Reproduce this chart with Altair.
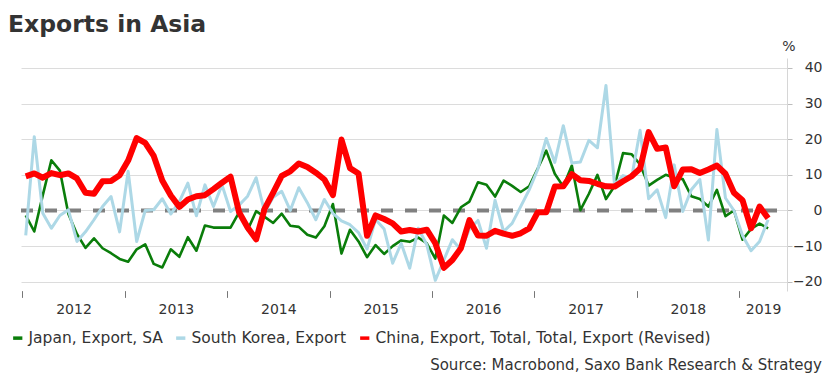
import altair as alt
import pandas as pd

# ---------------- data (monthly, Jan 2012 .. Apr 2019) ----------------
start_year, start_month, n_months = 2012, 1, 88

japan = [
    -1.4, -5.9, 4.3, 14.1, 11.2, -1.0, -6.6, -10.5, -7.8, -10.6, -12.0, -13.6,
    -14.4, -10.9, -9.5, -15.0, -16.0, -10.9, -13.0, -7.5, -11.3, -4.2, -4.8, -4.8,
    -4.8, -0.5, -5.5, -0.2, -1.8, -3.5, -0.9, -4.3, -4.6, -6.8, -7.6, -4.4,
    1.8, -12.1, -5.4, -8.7, -13.1, -9.7, -12.2, -10.0, -8.4, -8.8, -7.6, -9.2,
    -13.5, -1.4, -3.5, 0.9, 2.5, 7.9, 7.2, 3.9, 8.4, 6.9, 5.2, 6.8,
    11.8, 16.8, 10.3, 6.7, 12.6, 0.1, 4.7, 10.0, 3.2, 6.8, 16.1, 15.8,
    12.9, 7.0, 8.6, 10.0, 9.2, 8.8, 4.0, 3.2, 1.1, 5.8, -1.6, 0.0,
    -8.2, -5.2, -3.7, -5.0,
]

korea = [
    -7.0, 20.7, -0.8, -5.0, -1.4, 0.2, -8.7, -6.0, -2.6, 1.1, 3.9, -6.0,
    11.0, -8.7, 0.0, 0.2, 3.3, -1.0, 2.5, 7.7, -1.5, 7.2, 1.1, 7.2,
    -0.3, 1.5, 4.0, 9.2, -0.5, 3.7, 5.4, 0.0, 6.4, 2.2, -2.6, 3.1,
    -0.8, -2.9, -4.0, -6.2, -10.8, -2.5, -5.2, -14.8, -9.2, -16.2, -5.0, -9.6,
    -19.6, -13.9, -8.2, -11.1, -5.2, -2.8, -10.6, 2.9, -5.9, -3.6, 1.1, 5.8,
    11.5, 20.2, 13.5, 23.8, 13.3, 13.6, 19.7, 17.6, 35.1, 7.2, 9.8, 9.1,
    22.5, 3.3, 5.8, -2.0, 12.8, -0.3, 5.8, 8.7, -8.3, 22.7, 3.5, 0.0,
    -7.0, -11.3, -8.7, -2.6,
]

china = [
    9.6, 10.4, 9.2, 10.5, 9.9, 10.4, 9.0, 5.0, 4.7, 8.2, 8.3, 9.9,
    14.0, 20.3, 19.0, 15.3, 8.4, 4.2, 1.0, 3.1, 4.0, 4.3, 6.0, 7.8,
    9.5, -0.5, -4.8, -8.1, 0.5, 5.0, 9.7, 11.0, 13.2, 12.2, 10.6, 8.7,
    4.3, 19.9, 11.9, 10.4, -7.1, -1.4, -2.4, -3.6, -5.9, -5.5, -5.9, -5.4,
    -9.2, -16.1, -13.9, -10.6, -2.7, -7.0, -7.1, -5.7, -6.5, -7.1, -6.4, -5.0,
    -0.5, -0.5, 6.7, 6.8, 10.2, 8.5, 8.3, 7.5, 6.8, 6.7, 8.2, 9.6,
    11.8, 22.0, 17.3, 17.7, 6.8, 11.5, 11.6, 10.5, 11.5, 12.6, 10.3, 5.0,
    2.9, -5.0, 1.1, -2.2,
]

series_names = [
    "Japan, Export, SA",
    "South Korea, Export",
    "China, Export, Total, Total, Export (Revised)",
]
series_values = [japan, korea, china]
series_colors = ["#0a7d0a", "#add8e6", "#ff0000"]
series_widths = [2.6, 3.0, 6.0]

years = [2012, 2013, 2014, 2015, 2016, 2017, 2018, 2019]
y_ticks = [-20, -10, 0, 10, 20, 30, 40]

title_text = "Exports in Asia"
unit_text = "%"
source_text = "Source: Macrobond, Saxo Bank Research & Strategy"

# ---------------- build table ----------------
rows = []
for name, vals in zip(series_names, series_values):
    for i, v in enumerate(vals):
        m = start_month - 1 + i
        rows.append({"t": start_year + m // 12 + (m % 12 + 0.4) / 12.0,
                     "series": name, "value": v})
df = pd.DataFrame(rows)

x_domain = [2011.987, 2019.468]
y_domain = [-22.6, 42.8]
label_pos = [min(y + 1, x_domain[1]) / 2 + y / 2 for y in years]

FONT = "DejaVu Sans"
TXT = "#333333"

x_scale = alt.Scale(domain=x_domain, nice=False, zero=False)
y_scale = alt.Scale(domain=y_domain, nice=False, zero=False)

legend = alt.Legend(
    title=None, orient="none", legendX=-11, legendY=272, direction="horizontal",
    labelFont=FONT, labelFontSize=15.5, labelColor=TXT, symbolType="stroke",
    symbolSize=85, symbolStrokeWidth=3.5, columnPadding=6, labelOffset=3,
    padding=0, labelLimit=0,
)

color = alt.Color("series:N", scale=alt.Scale(domain=series_names, range=series_colors),
                  legend=legend)

x_enc = alt.X("t:Q", scale=x_scale, title=None,
              axis=alt.Axis(values=years, labels=False, ticks=True, tickSize=6,
                            tickColor="#777777", domain=False, grid=False, orient="bottom"))
y_axis = alt.Axis(orient="right", values=y_ticks, grid=True, gridColor="#dcdcdc",
                  gridWidth=1, domain=True, domainColor="#d6d6d6", ticks=True,
                  tickSize=5, tickColor="#bdbdbd", labelFont=FONT, labelFontSize=14,
                  labelColor=TXT, labelAlign="right", labelPadding=30,
                  labelBaseline="middle", title=None)
y_enc = alt.Y("value:Q", scale=y_scale, title=None, axis=y_axis)

zero_df = pd.DataFrame({"x0": [x_domain[0]], "x1": [x_domain[1]], "z": [0]})
zero = alt.Chart(zero_df).mark_rule(
    color="#808080", strokeWidth=4, strokeDash=[12, 12]
).encode(
    x=alt.X("x0:Q", scale=x_scale, title=None,
            axis=alt.Axis(values=label_pos, labelExpr="floor(datum.value)",
                          ticks=False, tickSize=0, domain=False, grid=False,
                          labelFont=FONT, labelFontSize=14, labelColor=TXT,
                          labelPadding=11, orient="bottom")),
    x2="x1:Q",
    y=alt.Y("z:Q", scale=y_scale, title=None, axis=y_axis),
)

lines = []
for name, w in zip(series_names, series_widths):
    lines.append(
        alt.Chart(df).transform_filter(alt.datum.series == name)
        .mark_line(strokeJoin="round", strokeWidth=w)
        .encode(x=x_enc, y=y_enc, color=color)
    )


def text_layer(txt, x, y, size, align, weight="normal"):
    return alt.Chart(pd.DataFrame({"label": [txt]})).mark_text(
        align=align, baseline="alphabetic", font=FONT, fontSize=size,
        fontWeight=weight, color=TXT
    ).encode(x=alt.value(x), y=alt.value(y), text="label:N")


title = text_layer(title_text, -13, -26, 23.5, "left", "bold")
unit = text_layer(unit_text, 768, -7, 14, "center")
source = text_layer(source_text, 801, 312, 15, "right")

chart = alt.layer(zero, *lines, title, unit, source).resolve_axis(
    x="independent"
).properties(
    width=766, height=233,
    padding={"left": 13, "top": 50, "right": 35, "bottom": 90},
    autosize=alt.AutoSizeParams(type="none"),
).configure_view(stroke=None)

chart.save("out.html", embed_options={"renderer": "svg", "actions": False})
